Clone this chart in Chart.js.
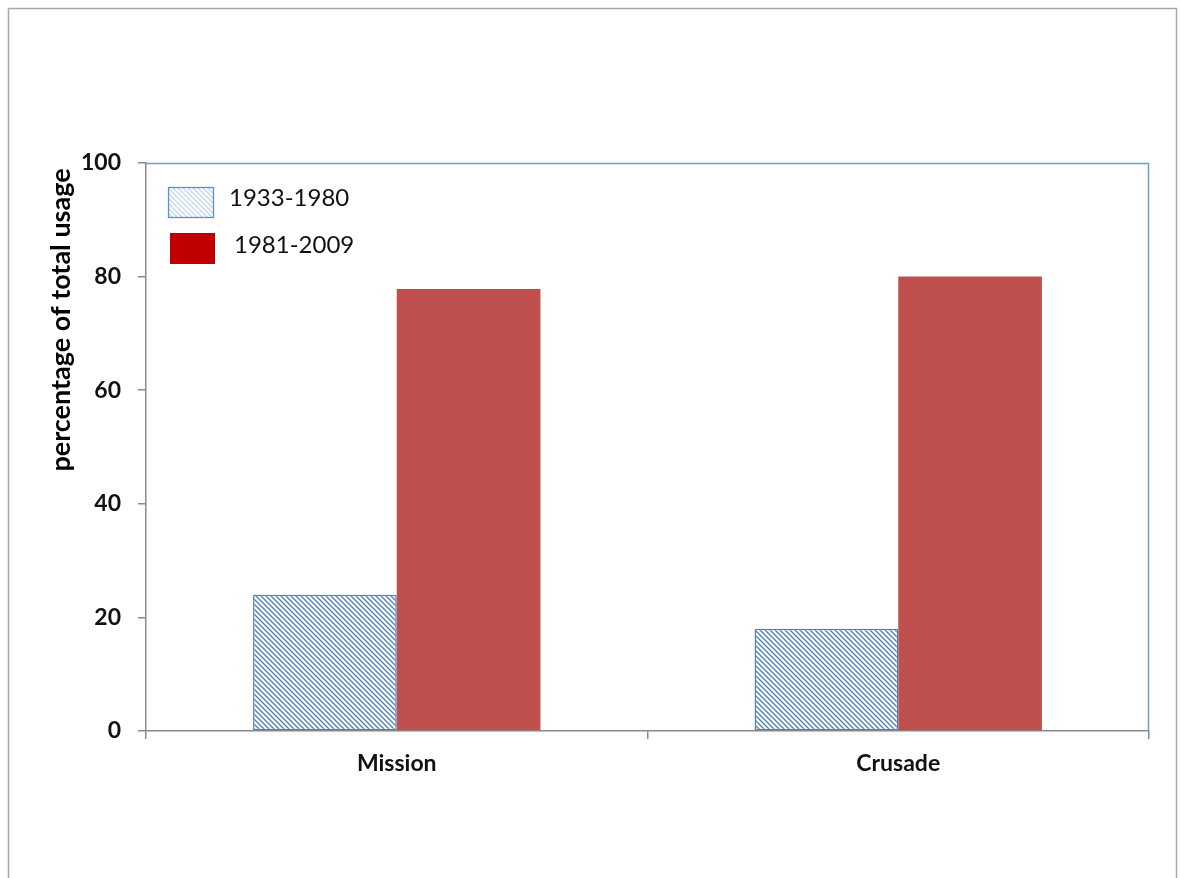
<!DOCTYPE html>
<html>
<head>
<meta charset="utf-8">
<title>percentage of total usage</title>
<script src="https://cdn.jsdelivr.net/npm/chart.js@4"></script>
<style>
    body { margin: 0; background: #fff; }
    #wrap { position: relative; width: 1180px; height: 878px; }
</style>
</head>
<body>
<div id="wrap"><canvas id="myChart"></canvas></div>
<script>
const ctx = document.getElementById('myChart').getContext('2d');

// chart data
const categories = ['Mission', 'Crusade'];
const seriesNames = ['1933-1980', '1981-2009'];
const early = [24, 18];   // 1933-1980
const late = [77.8, 80];  // 1981-2009
const yTicks = [0, 20, 40, 60, 80, 100];
const yTitle = 'percentage of total usage';

const FONT = 'Lato, "Open Sans", sans-serif';

// diagonal hatch fill for the older period
function makeHatch(lineColor, size) {
    const c = document.createElement('canvas');
    c.width = size;
    c.height = size;
    const g = c.getContext('2d');
    g.fillStyle = '#fff';
    g.fillRect(0, 0, size, size);
    g.strokeStyle = lineColor;
    g.lineWidth = 1.3;
    g.beginPath();
    g.moveTo(-1, -1); g.lineTo(size + 1, size + 1);
    g.moveTo(-1, size - 1); g.lineTo(1, size + 1);
    g.moveTo(size - 1, -1); g.lineTo(size + 1, 1);
    g.stroke();
    return ctx.createPattern(c, 'repeat');
}
const hatchBar = makeHatch('#4a7ebb', 5);
const hatchKey = makeHatch('#c5d7ef', 5);

// frame, plot border, rotated axis title and the legend box
const decorations = {
    id: 'decorations',
    beforeDraw(chart) {
        const c = chart.ctx;
        c.save();
        c.strokeStyle = '#a8a8a8';
        c.lineWidth = 1.5;
        c.strokeRect(8.5, 8.5, 1168, 900);
        c.restore();
    },
    afterDraw(chart) {
        const c = chart.ctx;
        const a = chart.chartArea;
        c.save();
        c.strokeStyle = '#6f9bd8';
        c.lineWidth = 1.5;
        c.beginPath();
        c.moveTo(a.left, a.top + 0.5);
        c.lineTo(a.right - 0.5, a.top + 0.5);
        c.lineTo(a.right - 0.5, a.bottom);
        c.stroke();

        // y title
        c.fillStyle = '#000';
        c.font = 'bold 27px ' + FONT;
        c.textAlign = 'center';
        c.textBaseline = 'middle';
        c.translate(61, 320);
        c.rotate(-Math.PI / 2);
        c.fillText(yTitle, 0, 0);
        c.restore();

        // legend
        c.save();
        c.fillStyle = hatchKey;
        c.fillRect(a.left + 22, a.top + 24, 45, 30);
        c.strokeStyle = '#5b8fd6';
        c.lineWidth = 1.3;
        c.strokeRect(a.left + 22.5, a.top + 24.5, 45, 30);
        c.fillStyle = '#c00000';
        c.fillRect(a.left + 24, a.top + 70, 45, 31);
        c.fillStyle = '#111';
        c.font = '24px ' + FONT;
        c.textAlign = 'left';
        c.textBaseline = 'middle';
        c.fillText(seriesNames[0], a.left + 83, a.top + 35);
        c.fillText(seriesNames[1], a.left + 88, a.top + 82);
        c.restore();
    }
};

const chart = new Chart(ctx, {
    type: 'bar',
    data: {
        labels: categories,
        datasets: [
            {
                label: seriesNames[0],
                data: early,
                backgroundColor: hatchBar,
                borderColor: '#4f81bd',
                borderWidth: 1.5,
                borderSkipped: false
            },
            {
                label: seriesNames[1],
                data: late,
                backgroundColor: '#c0504d',
                borderWidth: 0
            }
        ]
    },
    options: {
        responsive: true,
        maintainAspectRatio: false,
        animation: false,
        categoryPercentage: 0.573,
        barPercentage: 1,
        layout: { padding: { left: 0, top: 163, right: 31, bottom: 0 } },
        plugins: {
            legend: { display: false },
            tooltip: { enabled: false }
        },
        scales: {
            x: {
                grid: {
                    drawOnChartArea: false,
                    color: '#8a8a8a',
                    lineWidth: 1.5,
                    tickLength: 8,
                    offset: true
                },
                border: { color: '#8a8a8a', width: 1.5 },
                ticks: {
                    color: '#111',
                    padding: 11,
                    font: { family: FONT, size: 23, weight: 'bold' }
                },
                afterFit(scale) { scale.height = 147; }
            },
            y: {
                min: 0,
                max: 100,
                afterBuildTicks(scale) {
                    scale.ticks = yTicks.map(v => ({ value: v }));
                },
                grid: {
                    drawOnChartArea: false,
                    color: '#8a8a8a',
                    lineWidth: 1.5,
                    tickLength: 8
                },
                border: { color: '#8a8a8a', width: 1.5 },
                ticks: {
                    color: '#111',
                    padding: 17,
                    font: { family: FONT, size: 23, weight: 'bold' }
                },
                afterFit(scale) { scale.width = 146; }
            }
        }
    },
    plugins: [decorations]
});
</script>
</body>
</html>
